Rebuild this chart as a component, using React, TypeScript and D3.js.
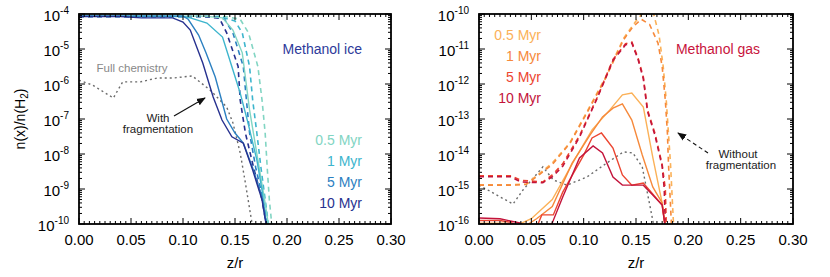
import React, { useEffect, useRef } from 'react';
import * as d3 from 'd3';

// each point: [z/r, log10 of n(x)/n(H2)]
type Pt = [number, number];

const ages = ['0.5 Myr', '1 Myr', '5 Myr', '10 Myr'];
const xTicks = [0, 0.05, 0.1, 0.15, 0.2, 0.25, 0.3];

const iceColors = ['#82d5c3', '#3db5cd', '#2c80c1', '#27318f'];
const gasColors = ['#fbb158', '#f6893b', '#ec4530', '#c3143b'];

// methanol ice, with fragmentation (solid)
const iceFrag05: Pt[] = [[0, -4.06], [0.12, -4.06], [0.138, -4.11], [0.148, -4.46], [0.157, -5.11], [0.164, -6.74], [0.172, -8.17], [0.179, -9.4], [0.183, -10.2]];
const iceFrag1: Pt[] = [[0, -4.06], [0.1, -4.07], [0.107, -4.11], [0.123, -4.26], [0.138, -4.66], [0.148, -5.6], [0.155, -6.26], [0.1625, -7.11], [0.171, -8.17], [0.176, -9.03], [0.181, -10.2]];
const iceFrag5: Pt[] = [[0, -4.06], [0.1, -4.06], [0.105, -4.15], [0.115, -4.6], [0.122, -5.1], [0.131, -5.8], [0.137, -6.45], [0.142, -7.0], [0.15, -7.4], [0.158, -7.69], [0.167, -8.4], [0.176, -9.23], [0.181, -10.2]];
const iceFrag10: Pt[] = [[0, -4.07], [0.04, -4.07], [0.06, -4.11], [0.09, -4.11], [0.1, -4.23], [0.107, -4.46], [0.119, -5.4], [0.129, -6.37], [0.1375, -7.03], [0.147, -7.51], [0.158, -7.69], [0.167, -8.46], [0.176, -9.31], [0.181, -10.2]];

// methanol ice, without fragmentation (dashed)
const iceNoFrag05: Pt[] = [[0, -4.07], [0.14, -4.07], [0.155, -4.15], [0.163, -4.54], [0.172, -5.5], [0.176, -6.46], [0.179, -7.4], [0.181, -8.4], [0.183, -9.3], [0.186, -10.2]];
const iceNoFrag1: Pt[] = [[0, -4.07], [0.135, -4.07], [0.15, -4.2], [0.157, -4.54], [0.164, -5.5], [0.167, -6.46], [0.171, -7.4], [0.175, -8.4], [0.179, -9.3], [0.183, -10.2]];
const iceNoFrag5: Pt[] = [[0, -4.07], [0.13, -4.07], [0.14, -4.15], [0.148, -4.54], [0.158, -5.5], [0.161, -6.46], [0.164, -7.4], [0.17, -8.4], [0.177, -9.3], [0.182, -10.2]];
const iceNoFrag10: Pt[] = [[0, -4.07], [0.12, -4.07], [0.135, -4.12], [0.142, -4.54], [0.153, -5.5], [0.155, -6.46], [0.16, -7.4], [0.168, -8.4], [0.176, -9.3], [0.181, -10.2]];

const iceFull: Pt[] = [[0, -5.89], [0.013, -6.03], [0.033, -6.4], [0.042, -5.94], [0.059, -5.94], [0.075, -5.83], [0.09, -5.83], [0.109, -5.77], [0.114, -5.89], [0.126, -6.17], [0.142, -6.66], [0.148, -7.11], [0.155, -7.97], [0.16, -8.83], [0.167, -10.1]];

// methanol gas, with fragmentation (solid)
const gasFrag05: Pt[] = [[0, -15.98], [0.025, -15.98], [0.035, -16.05], [0.05, -15.85], [0.07, -15.3], [0.09, -14.23], [0.108, -13.31], [0.125, -12.74], [0.137, -12.31], [0.146, -12.26], [0.157, -12.66], [0.166, -14.09], [0.175, -15.4], [0.178, -16.1]];
const gasFrag1: Pt[] = [[0, -16.0], [0.03, -16.0], [0.042, -16.1], [0.055, -15.85], [0.07, -15.5], [0.089, -14.26], [0.106, -13.46], [0.118, -12.94], [0.128, -12.69], [0.137, -12.57], [0.146, -13.03], [0.156, -14.03], [0.166, -14.94], [0.175, -15.4], [0.178, -16.1]];
const gasFrag5: Pt[] = [[0, -15.9], [0.02, -15.9], [0.03, -15.95], [0.04, -16.1], [0.055, -16.1], [0.06, -15.74], [0.071, -15.74], [0.08, -15.09], [0.1, -14.03], [0.108, -13.54], [0.117, -13.4], [0.128, -13.83], [0.137, -14.6], [0.146, -14.89], [0.157, -14.83], [0.175, -15.46], [0.178, -16.1]];
const gasFrag10: Pt[] = [[0, -15.83], [0.02, -15.85], [0.039, -15.97], [0.045, -16.1], [0.065, -16.1], [0.07, -15.97], [0.08, -15.23], [0.096, -14.11], [0.109, -13.77], [0.118, -13.97], [0.128, -14.66], [0.137, -14.89], [0.157, -14.89], [0.166, -15.17], [0.175, -15.46], [0.178, -16.1]];

// methanol gas, without fragmentation (dashed)
const gasNoFrag05: Pt[] = [[0, -14.88], [0.03, -14.88], [0.045, -14.86], [0.058, -14.55], [0.07, -14.26], [0.087, -13.67], [0.103, -12.8], [0.12, -11.86], [0.138, -10.7], [0.15, -10.2], [0.16, -9.85], [0.166, -9.9], [0.172, -10.6], [0.176, -11.5], [0.179, -12.5], [0.181, -13.4], [0.183, -14.3], [0.186, -16.1]];
const gasNoFrag1: Pt[] = [[0, -14.89], [0.03, -14.89], [0.045, -14.87], [0.058, -14.58], [0.07, -14.3], [0.087, -13.69], [0.103, -12.83], [0.12, -11.89], [0.138, -10.74], [0.147, -10.37], [0.155, -10.15], [0.163, -10.3], [0.171, -10.83], [0.175, -11.5], [0.178, -12.46], [0.18, -13.4], [0.181, -14.26], [0.184, -16.1]];
const gasNoFrag5: Pt[] = [[0, -14.62], [0.03, -14.62], [0.04, -14.75], [0.061, -14.8], [0.07, -14.6], [0.08, -14.28], [0.096, -13.48], [0.113, -12.38], [0.128, -11.3], [0.14, -10.85], [0.146, -10.8], [0.152, -11.26], [0.157, -11.8], [0.161, -12.74], [0.168, -13.4], [0.175, -14.3], [0.178, -15.0], [0.179, -16.1]];
const gasNoFrag10: Pt[] = [[0, -14.65], [0.03, -14.65], [0.04, -14.8], [0.061, -14.82], [0.07, -14.65], [0.08, -14.35], [0.096, -13.52], [0.113, -12.4], [0.128, -11.33], [0.14, -10.88], [0.146, -10.83], [0.152, -11.3], [0.157, -11.85], [0.161, -12.78], [0.168, -13.45], [0.175, -14.35], [0.177, -15.0], [0.178, -16.1]];

const gasFull: Pt[] = [[0, -14.89], [0.0325, -15.43], [0.042, -15.03], [0.061, -14.37], [0.071, -14.74], [0.084, -14.89], [0.103, -14.66], [0.122, -14.26], [0.138, -13.94], [0.147, -13.97], [0.156, -14.37], [0.166, -15.89], [0.169, -16.3]];

const FONT = '"Liberation Sans", Arial, Helvetica, sans-serif';

interface PanelCfg {
  id: string;
  left: number;
  right: number;
  expMin: number;
  expMax: number;
  solid: Pt[][];
  dashed: Pt[][];
  full: Pt[];
  colors: string[];
}

const TOP = 14;
const BOTTOM = 224;

function drawPanel(svg: d3.Selection<SVGSVGElement, unknown, null, undefined>, cfg: PanelCfg) {
  const x = d3.scaleLinear().domain([0, 0.3]).range([cfg.left, cfg.right]);
  const y = d3.scaleLog().domain([Math.pow(10, cfg.expMin), Math.pow(10, cfg.expMax)]).range([BOTTOM, TOP]);

  const g = svg.append('g');

  g.append('clipPath').attr('id', `clip-${cfg.id}`)
    .append('rect')
    .attr('x', cfg.left).attr('y', TOP)
    .attr('width', cfg.right - cfg.left).attr('height', BOTTOM - TOP);

  const line = d3.line<Pt>().x(d => x(d[0])).y(d => y(Math.pow(10, d[1])));
  const lines = g.append('g').attr('clip-path', `url(#clip-${cfg.id})`).attr('fill', 'none');

  lines.append('path').attr('d', line(cfg.full) || '')
    .attr('stroke', '#6b6b6b').attr('stroke-width', 1.4).attr('stroke-dasharray', '2 3');

  cfg.dashed.forEach((s, i) => {
    lines.append('path').attr('d', line(s) || '')
      .attr('stroke', cfg.colors[i]).attr('stroke-width', 1.6).attr('stroke-dasharray', '5 4');
  });
  // 10 Myr drawn last so it sits on top
  cfg.solid.forEach((s, i) => {
    lines.append('path').attr('d', line(s) || '')
      .attr('stroke', cfg.colors[i]).attr('stroke-width', 1.4);
  });

  // ticks, pointing inward on all four sides
  const ticks = g.append('g').attr('stroke', '#000').attr('stroke-width', 1);
  d3.range(0, 0.3001, 0.005).forEach(v => {
    const major = Math.abs(v / 0.05 - Math.round(v / 0.05)) < 1e-6;
    const len = major ? 6 : 3;
    const px = x(v);
    ticks.append('line').attr('x1', px).attr('x2', px).attr('y1', BOTTOM).attr('y2', BOTTOM - len);
    ticks.append('line').attr('x1', px).attr('x2', px).attr('y1', TOP).attr('y2', TOP + len);
  });
  y.ticks().forEach(v => {
    const e = Math.log10(v);
    const major = Math.abs(e - Math.round(e)) < 1e-6;
    const len = major ? 6 : 3;
    const py = y(v);
    ticks.append('line').attr('x1', cfg.left).attr('x2', cfg.left + len).attr('y1', py).attr('y2', py);
    ticks.append('line').attr('x1', cfg.right).attr('x2', cfg.right - len).attr('y1', py).attr('y2', py);
  });

  g.append('rect')
    .attr('x', cfg.left).attr('y', TOP)
    .attr('width', cfg.right - cfg.left).attr('height', BOTTOM - TOP)
    .attr('fill', 'none').attr('stroke', '#000').attr('stroke-width', 1.8);

  // x labels
  xTicks.forEach(v => {
    g.append('text').attr('x', x(v)).attr('y', BOTTOM + 21)
      .attr('text-anchor', 'middle').attr('font-size', 15).attr('font-family', FONT)
      .text(v.toFixed(2));
  });
  g.append('text').attr('x', (cfg.left + cfg.right) / 2).attr('y', 268)
    .attr('text-anchor', 'middle').attr('font-size', 15).attr('font-family', FONT)
    .text('z/r');

  // y labels 10^n
  d3.range(cfg.expMin, cfg.expMax + 1).forEach(e => {
    const t = g.append('text').attr('x', cfg.left - 10).attr('y', y(Math.pow(10, e)) + 7)
      .attr('text-anchor', 'end').attr('font-size', 15).attr('font-family', FONT);
    t.append('tspan').text('10');
    t.append('tspan').attr('dy', -7).attr('font-size', 10).text(String(e));
  });

  return { x, y, g };
}

export default function App() {
  const svgRef = useRef<SVGSVGElement>(null);

  useEffect(() => {
    if (!svgRef.current) return;
    const svg = d3.select(svgRef.current);
    svg.selectAll('*').remove();

    const defs = svg.append('defs');
    defs.append('marker').attr('id', 'arrowhead')
      .attr('viewBox', '0 0 10 10').attr('refX', 9).attr('refY', 5)
      .attr('markerWidth', 9).attr('markerHeight', 9).attr('orient', 'auto')
      .attr('markerUnits', 'userSpaceOnUse')
      .append('path').attr('d', 'M0,1 L10,5 L0,9 Z').attr('fill', '#111');

    const ice = drawPanel(svg, {
      id: 'ice', left: 79, right: 391, expMin: -10, expMax: -4,
      solid: [iceFrag05, iceFrag1, iceFrag5, iceFrag10],
      dashed: [iceNoFrag05, iceNoFrag1, iceNoFrag5, iceNoFrag10],
      full: iceFull, colors: iceColors,
    });
    const gas = drawPanel(svg, {
      id: 'gas', left: 479, right: 793, expMin: -16, expMax: -10,
      solid: [gasFrag05, gasFrag1, gasFrag5, gasFrag10],
      dashed: [gasNoFrag05, gasNoFrag1, gasNoFrag5, gasNoFrag10],
      full: gasFull, colors: gasColors,
    });

    // y axis title
    const yt = svg.append('text').attr('transform', 'translate(25,119) rotate(-90)')
      .attr('text-anchor', 'middle').attr('font-size', 14).attr('font-family', FONT);
    yt.append('tspan').text('n(x)/n(H');
    yt.append('tspan').attr('font-size', 10).attr('dy', 3).text('2');
    yt.append('tspan').attr('dy', -3).text(')');

    // left panel annotations
    ice.g.append('text').attr('x', 362).attr('y', 54).attr('text-anchor', 'end')
      .attr('font-size', 14).attr('font-family', FONT).attr('fill', '#2d3a9a').text('Methanol ice');
    ages.forEach((a, i) => {
      ice.g.append('text').attr('x', 362).attr('y', 145 + i * 21).attr('text-anchor', 'end')
        .attr('font-size', 14).attr('font-family', FONT).attr('fill', iceColors[i]).text(a);
    });
    ice.g.append('text').attr('x', 132).attr('y', 72).attr('text-anchor', 'middle')
      .attr('font-size', 11.5).attr('font-family', FONT).attr('fill', '#888').text('Full chemistry');
    ice.g.append('text').attr('x', 158).attr('y', 122).attr('text-anchor', 'middle')
      .attr('font-size', 11.5).attr('font-family', FONT).attr('fill', '#222').text('With');
    ice.g.append('text').attr('x', 158).attr('y', 133).attr('text-anchor', 'middle')
      .attr('font-size', 11.5).attr('font-family', FONT).attr('fill', '#222').text('fragmentation');
    ice.g.append('line').attr('x1', 174).attr('y1', 116).attr('x2', 205).attr('y2', 98)
      .attr('stroke', '#111').attr('stroke-width', 1.2).attr('marker-end', 'url(#arrowhead)');

    // right panel annotations
    gas.g.append('text').attr('x', 760).attr('y', 54).attr('text-anchor', 'end')
      .attr('font-size', 14).attr('font-family', FONT).attr('fill', '#c8143c').text('Methanol gas');
    ages.forEach((a, i) => {
      gas.g.append('text').attr('x', 541).attr('y', 40 + i * 21).attr('text-anchor', 'end')
        .attr('font-size', 14).attr('font-family', FONT).attr('fill', gasColors[i]).text(a);
    });
    gas.g.append('text').attr('x', 738).attr('y', 158).attr('text-anchor', 'middle')
      .attr('font-size', 11.5).attr('font-family', FONT).attr('fill', '#222').text('Without');
    gas.g.append('text').attr('x', 741).attr('y', 169).attr('text-anchor', 'middle')
      .attr('font-size', 11.5).attr('font-family', FONT).attr('fill', '#222').text('fragmentation');
    gas.g.append('line').attr('x1', 708).attr('y1', 153).attr('x2', 678).attr('y2', 133)
      .attr('stroke', '#111').attr('stroke-width', 1.1).attr('stroke-dasharray', '4 3')
      .attr('marker-end', 'url(#arrowhead)');
  }, []);

  return (
    <svg ref={svgRef} width={830} height={277}
      style={{ position: 'absolute', left: 0, top: 0, background: '#fff' }} />
  );
}
